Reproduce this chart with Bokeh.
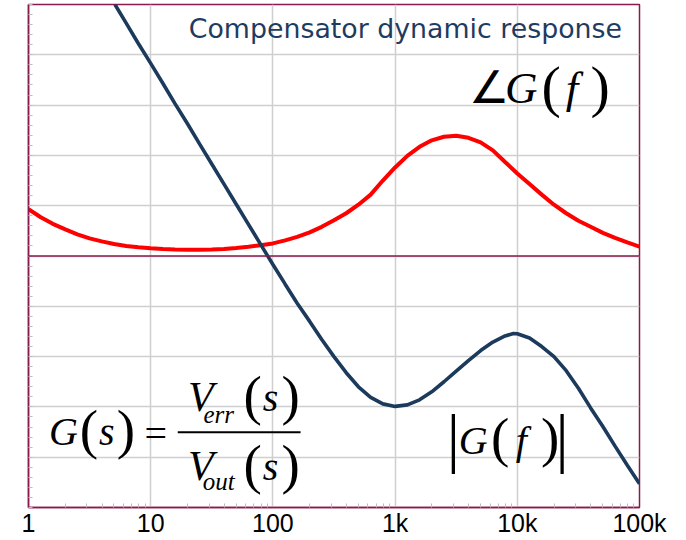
from bokeh.plotting import figure
from bokeh.models import FixedTicker, Span, Label, BoxAnnotation
from bokeh.embed import file_html
from bokeh.resources import INLINE

# ---- data ----
freq_mag = [5.1, 6.3, 7.9, 10, 12.6, 15.8, 20, 25.1, 31.6, 39.8, 50.1, 63.1, 79.4, 100,
            126, 158, 200, 251, 316, 398, 501, 631, 794, 1000, 1259, 1585, 1995, 2512,
            3162, 3981, 5012, 6310, 7943, 9300, 10000, 12589, 15849, 19953, 25119, 31623,
            39811, 50119, 63096, 79433, 100000]
mag = [50.0, 46.3, 42.3, 38.3, 34.3, 30.3, 26.3, 22.3, 18.3, 14.3, 10.3, 6.3, 2.3, -1.7,
       -5.6, -9.4, -13.0, -16.6, -20.0, -23.2, -26.0, -28.1, -29.4, -29.9, -29.6, -28.6,
       -27.0, -25.0, -22.9, -20.8, -18.8, -17.1, -15.9, -15.4, -15.45, -16.3, -18.0, -20.0,
       -22.8, -26.3, -30.2, -33.9, -37.8, -41.6, -45.3]

freq_phase = [1, 1.26, 1.58, 2, 2.51, 3.16, 3.98, 5.01, 6.31, 7.94, 10, 12.6, 15.8, 20,
              25.1, 31.6, 39.8, 50.1, 63.1, 79.4, 100, 126, 158, 200, 251, 316, 398, 501,
              631, 794, 1000, 1259, 1585, 1995, 2512, 3162, 3981, 5012, 6310, 7943, 10000,
              12589, 15849, 19953, 25119, 31623, 39811, 50119, 63096, 79433, 100000]
phase = [9.3, 7.7, 6.4, 5.3, 4.3, 3.5, 2.9, 2.4, 2.0, 1.75, 1.55, 1.4, 1.3, 1.25, 1.25,
         1.3, 1.4, 1.6, 1.85, 2.15, 2.5, 3.1, 3.8, 4.7, 5.8, 7.1, 8.5, 10.2, 12.2, 15.0,
         17.6, 19.9, 21.7, 23.0, 23.7, 23.9, 23.5, 22.6, 21.0, 18.7, 16.4, 14.3, 12.2, 10.2,
         8.5, 7.0, 5.8, 4.6, 3.6, 2.7, 1.85]

x_ticks = [1, 10, 100, 1000, 10000, 100000]
x_tick_labels = ["1", "10", "100", "1k", "10k", "100k"]
y_ticks = [-50, -40, -30, -20, -10, 0, 10, 20, 30, 40, 50]
title_text = "Compensator dynamic response"

# ---- styling ----
NAVY = "#1b3a5c"
RED = "#ff0000"
MAROON = "#8a1a4e"
GRID = "#cfcfcf"

p = figure(width=686, height=540, x_axis_type="log", x_range=(1, 1e5), y_range=(-50, 50),
           output_backend="svg", toolbar_location=None,
           min_border_left=28, min_border_right=47, min_border_top=4, min_border_bottom=33,
           background_fill_color="white", border_fill_color="white")
p.outline_line_color = MAROON
p.outline_line_width = 1.5

minor_x = [m * d for d in [1, 10, 100, 1000, 10000] for m in range(2, 10)]
p.xaxis.ticker = FixedTicker(ticks=x_ticks, minor_ticks=minor_x)
p.xaxis.major_label_overrides = {t: l for t, l in zip(x_ticks, x_tick_labels)}
p.xaxis.major_label_text_font = "Liberation Sans"
p.xaxis.major_label_text_font_size = "25px"
p.xaxis.major_label_text_color = "black"
p.xaxis.major_label_standoff = 1
p.xaxis.major_tick_out = 0
p.xaxis.major_tick_in = 0
p.xaxis.minor_tick_out = 0
p.xaxis.minor_tick_in = 4
p.xaxis.minor_tick_line_color = "#bdbdbd"
p.xaxis.axis_line_color = MAROON
p.xaxis.axis_line_width = 1.5

p.yaxis.ticker = FixedTicker(ticks=y_ticks, minor_ticks=list(range(-50, 51, 2)))
p.yaxis.major_label_overrides = {t: "" for t in y_ticks}
p.yaxis.major_label_text_font_size = "1px"
p.yaxis.major_label_standoff = 0
p.yaxis.major_tick_out = 0
p.yaxis.major_tick_in = 0
p.yaxis.minor_tick_out = 0
p.yaxis.minor_tick_in = 4
p.yaxis.minor_tick_line_color = "#bdbdbd"
p.yaxis.axis_line_color = MAROON
p.yaxis.axis_line_width = 1.5

p.xgrid.ticker = FixedTicker(ticks=x_ticks)
p.ygrid.ticker = FixedTicker(ticks=y_ticks)
p.xgrid.grid_line_color = GRID
p.ygrid.grid_line_color = GRID
p.xgrid.grid_line_width = 1.5
p.ygrid.grid_line_width = 1.5

p.add_layout(Span(location=0, dimension="width", line_color=MAROON, line_width=1.5))

p.line(freq_phase, phase, line_color=RED, line_width=4)
p.line(freq_mag, mag, line_color=NAVY, line_width=3.6)


# ---- annotations (placed by reference pixel positions) ----
def fx(px):
    return 10 ** ((px - 27.5) / 122.4)


def vy(py):
    return (256 - py) / 5.025


SHIFT = 0.3  # baseline correction, fraction of font size


def add_text(txt, px, py, size, italic=False, font="Liberation Serif", color="black",
             align="center"):
    p.add_layout(Label(x=fx(px), y=vy(py - SHIFT * size), text=txt,
                       text_font=font, text_font_size=f"{size}px",
                       text_font_style="italic" if italic else "normal",
                       text_align=align, text_baseline="alphabetic", text_color=color))


add_text(title_text, 188, 37, 26.8, font="DejaVu Sans", color="#1f3b5e", align="left")

# angle G(f)
add_text("\u2220", 489, 101.7, 45)
add_text("G", 521, 101.7, 45, italic=True)
add_text("(", 551, 104.5, 58)
add_text("f", 572, 102, 45, italic=True)
add_text(")", 600, 104.5, 58)

# |G(f)|
add_text("|", 453, 457, 66)
add_text("G", 473, 452, 40, italic=True)
add_text("(", 500, 454, 55)
add_text("f", 521, 452, 40, italic=True)
add_text(")", 550, 454, 55)
add_text("|", 562, 457, 66)

# G(s) = Verr(s)/Vout(s)
add_text("G", 62.5, 443, 40, italic=True)
add_text("(", 88, 446, 55)
add_text("s", 106, 443, 40, italic=True)
add_text(")", 125, 446, 55)
add_text("=", 155, 445, 40)
add_text("V", 200, 409, 42, italic=True)
add_text("err", 218, 422, 25, italic=True)
add_text("(", 252, 412, 55)
add_text("s", 270, 409, 40, italic=True)
add_text(")", 290, 412, 55)
add_text("V", 200, 478, 42, italic=True)
add_text("out", 218, 489, 25, italic=True)
add_text("(", 252, 481, 55)
add_text("s", 270, 478, 40, italic=True)
add_text(")", 290, 481, 55)
p.add_layout(BoxAnnotation(left=fx(177), right=fx(300), top=vy(431), bottom=vy(433),
                           fill_color="black", fill_alpha=1, line_color=None))

open("out.html", "w").write(file_html(p, INLINE))
